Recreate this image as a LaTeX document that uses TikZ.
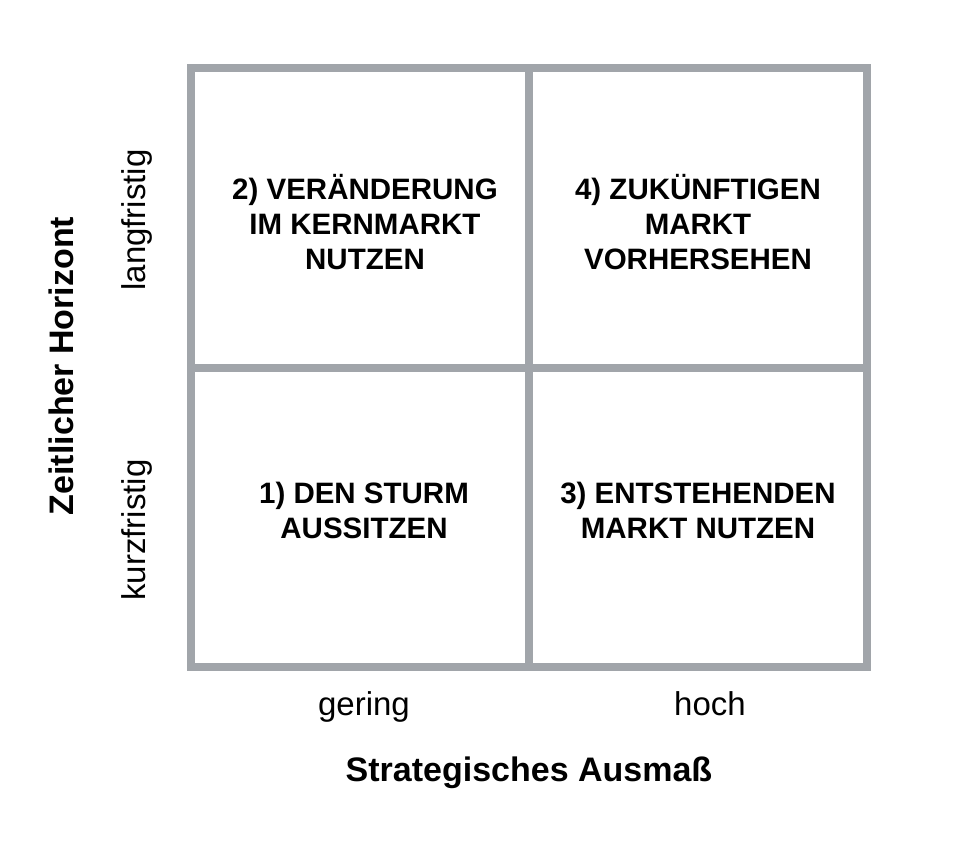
\documentclass[tikz,border=0pt]{standalone}
\usepackage{fontspec}
\setmainfont{Liberation Sans}
\usetikzlibrary{positioning}
\definecolor{gridgray}{HTML}{A1A5AA}

\begin{document}
\begin{tikzpicture}[x=1pt,y=-1pt,
  cell/.style={align=center,font=\fontsize{29.5}{35}\selectfont\bfseries},
  level/.style={font=\fontsize{33}{38}\selectfont},
  axis/.style={font=\fontsize{34}{40}\selectfont\bfseries}]
\useasboundingbox (0,0) rectangle (970,854);
% Raster
\draw[gridgray,line width=7.5pt] (191,68) rectangle (867,667);
\draw[gridgray,line width=7.5pt] (529,68) -- (529,667) (191,368) -- (867,368);
% Felder
\node[cell] (f2) at (365,222) {2) VERÄNDERUNG\\IM KERNMARKT\\NUTZEN};
\node[cell] (f4) at (698,222) {4) ZUKÜNFTIGEN\\MARKT\\VORHERSEHEN};
\node[cell] (f1) at (364,510) {1) DEN STURM\\AUSSITZEN};
\node[cell] (f3) at (698,510) {3) ENTSTEHENDEN\\MARKT NUTZEN};
% Achsen
\node[level,rotate=90] (lang) at (137,220) {langfristig};
\node[level,rotate=90] (kurz) at (137,530) {kurzfristig};
\node[axis,rotate=90] (zeit) at (61,366) {Zeitlicher Horizont};
\node[level,anchor=base] (gering) at (364,715) {gering};
\node[level,anchor=base] (hoch) at (710,715) {hoch};
\node[axis,anchor=base] (strat) at (529,781) {Strategisches Ausmaß};
\end{tikzpicture}
\end{document}
